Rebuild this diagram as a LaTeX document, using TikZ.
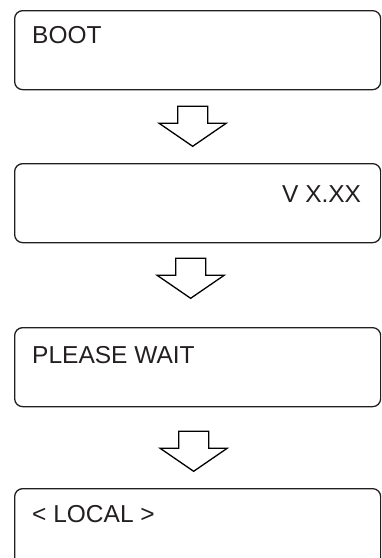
\documentclass[tikz,border=0pt]{standalone}
\usepackage{fontspec}
\setmainfont{Liberation Sans}
\usepackage{tikz}
\usetikzlibrary{positioning}
\definecolor{inkgray}{RGB}{35,31,32}

% hollow block arrow pointing down, #1 = top centre
\newcommand{\blockarrow}[1]{%
  \draw[flowarrow] (#1) ++(-15,0) -- ++(30,0) -- ++(0,17) -- ++(18.5,0)
    -- ++(-33.5,23) -- ++(-33.5,-23) -- ++(18.5,0) -- cycle;}

\begin{document}
\begin{tikzpicture}[x=1pt, y=-1pt,
    screen/.style={draw=inkgray, line width=1.3pt, rounded corners=8pt,
      minimum width=366pt, minimum height=79pt, anchor=north west, inner sep=0pt},
    screentext/.style={font=\fontsize{24.5}{28}\selectfont, text=inkgray, inner sep=0pt},
    flowarrow/.style={draw=black, line width=1.3pt, fill=white, line join=miter}]
			\clip (0,0) rectangle (381,558);

			% Screens
			\node[screen] (boot)   at (14,10)  {};
			\node[screen] (ver)    at (14,163) {};
			\node[screen] (wait)   at (14,327) {};
			\node[screen] (local)  at (14,488) {};

			\node[screentext, anchor=base west] (boottext)  at ([xshift=18pt, yshift=-33pt]boot.north west) {BOOT};
			\node[screentext, anchor=base east] (vertext)   at ([xshift=-20pt, yshift=-39pt]ver.north east) {V X.XX};
			\node[screentext, anchor=base west] (waittext)  at ([xshift=18pt, yshift=-36pt]wait.north west) {PLEASE WAIT};
			\node[screentext, anchor=base west] (localtext) at ([xshift=18pt, yshift=-34pt]local.north west) {< LOCAL >};

			% Arrows between screens
			\coordinate (a1) at ([xshift=-5pt, yshift=-16pt]boot.south);
			\coordinate (a2) at ([xshift=-7pt, yshift=-15pt]ver.south);
			\coordinate (a3) at ([xshift=-4pt, yshift=-24pt]wait.south);
			\blockarrow{a1}
			\blockarrow{a2}
			\blockarrow{a3}

		\end{tikzpicture}
\end{document}
